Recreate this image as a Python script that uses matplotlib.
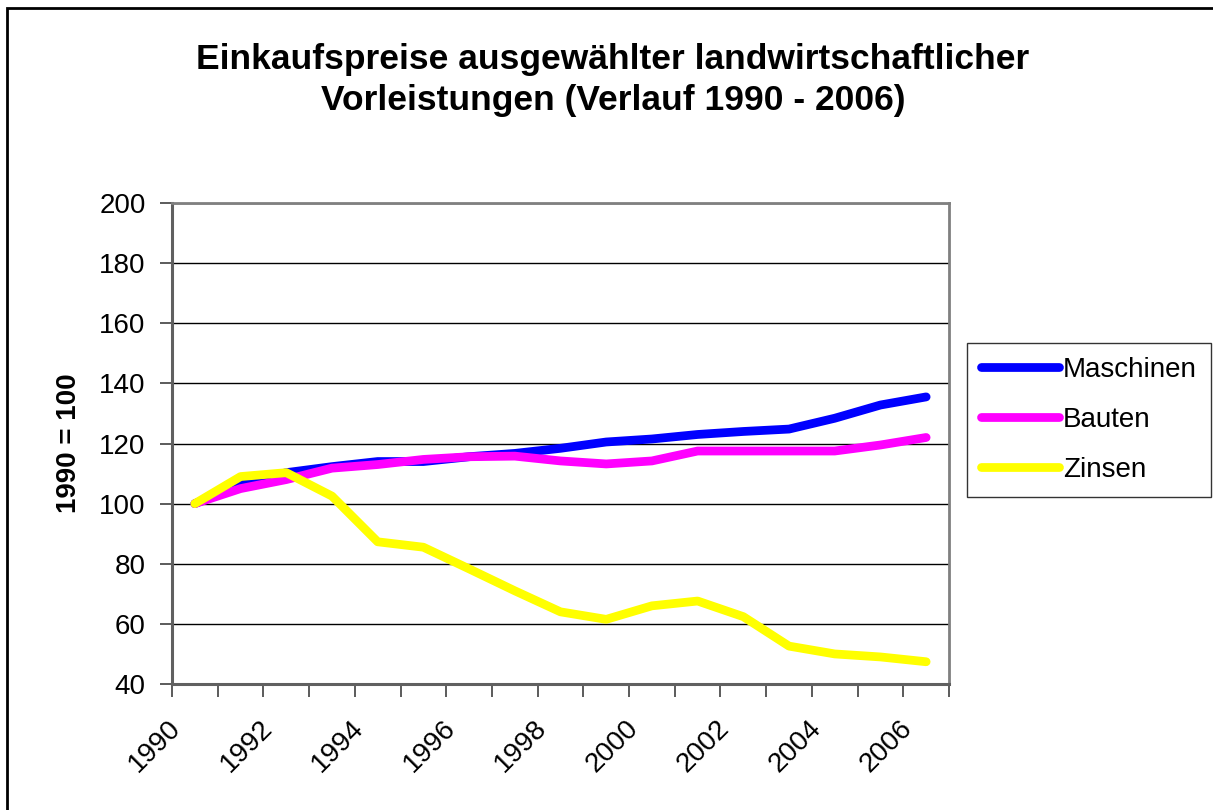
import numpy as np
import matplotlib
matplotlib.use('Agg')
import matplotlib.pyplot as plt
import matplotlib.transforms as mtransforms
from matplotlib.patches import Rectangle

plt.rcParams['font.family'] = ['Liberation Sans', 'DejaVu Sans']

years = list(range(1990, 2007))
maschinen = [100, 106.2, 110.3, 112.3, 114, 114, 115.6, 116.7, 118.4,
             120.5, 121.5, 123, 124, 124.8, 128.4, 132.8, 135.5]
bauten = [100, 105, 108, 111.8, 113, 114.7, 115.6, 115.8, 114.2,
          113.2, 114.2, 117.5, 117.5, 117.5, 117.5, 119.5, 122]
zinsen = [100, 109, 110.3, 102.5, 87.3, 85.5, 78.3, 71, 64,
          61.5, 66, 67.6, 62.4, 52.6, 50, 49, 47.4]

series_names = ['Maschinen', 'Bauten', 'Zinsen']
series_colors = ['#0000ff', '#ff00ff', '#ffff00']
title = 'Einkaufspreise ausgewählter landwirtschaftlicher\nVorleistungen (Verlauf 1990 - 2006)'
ylabel = '1990 = 100'

W, H = 1213, 810
fig = plt.figure(figsize=(W / 100, H / 100), dpi=100)
ax = fig.add_axes([172 / W, 1 - 684 / H, (949 - 172) / W, (684 - 203) / H])

x = np.arange(len(years))
for vals, name, col in zip([maschinen, bauten, zinsen], series_names, series_colors):
    ax.plot(x, vals, color=col, lw=6.3, label=name, solid_capstyle='round',
            solid_joinstyle='round')

ax.set_xlim(-0.5, len(years) - 0.5)
ax.set_ylim(40, 200)
ax.set_yticks(np.arange(40, 201, 20))
ax.yaxis.grid(True, color='black', lw=1)
ax.set_axisbelow(True)

ax.set_xticks(x[::2])
ax.set_xticklabels([str(y) for y in years[::2]], rotation=45, ha='right',
                   rotation_mode='anchor')
ax.set_xticks(np.arange(-0.5, len(years), 1), minor=True)
ax.tick_params(axis='x', which='major', length=0, pad=19, labelsize=20)
ax.tick_params(axis='x', which='minor', length=9, width=1.2, color='#404040')
ax.tick_params(axis='y', length=9, width=1.2, color='#404040', labelsize=20, pad=10)

# nudge the rotated year labels to the left/down, as in the original
shift = mtransforms.ScaledTranslation(-27 / 100, -5 / 100, fig.dpi_scale_trans)
for lbl in ax.get_xticklabels():
    lbl.set_transform(lbl.get_transform() + shift)

for s in ['left', 'bottom']:
    ax.spines[s].set_color('#606060')
    ax.spines[s].set_linewidth(2.2)
for s in ['top', 'right']:
    ax.spines[s].set_color('#808080')
    ax.spines[s].set_linewidth(2)

ax.set_ylabel(ylabel, fontsize=20, fontweight='bold', labelpad=12)
fig.text(613 / W, 1 - 80 / H, title, ha='center', va='center', fontsize=25.5,
         fontweight='bold', linespacing=1.3)

fig.legend(loc='upper left', bbox_to_anchor=(967 / W, 1 - 343 / H),
           frameon=True, fancybox=False, edgecolor='black', fontsize=20,
           handlelength=2.8, handletextpad=0.15, labelspacing=0.86,
           borderpad=0.5, borderaxespad=0)

fig.patches.append(Rectangle((7 / W, -0.05), 1.1, 1 - 8 / H + 0.05,
                             transform=fig.transFigure, fill=False,
                             edgecolor='black', lw=2, clip_on=False))

fig.savefig('out.png', dpi=100)
